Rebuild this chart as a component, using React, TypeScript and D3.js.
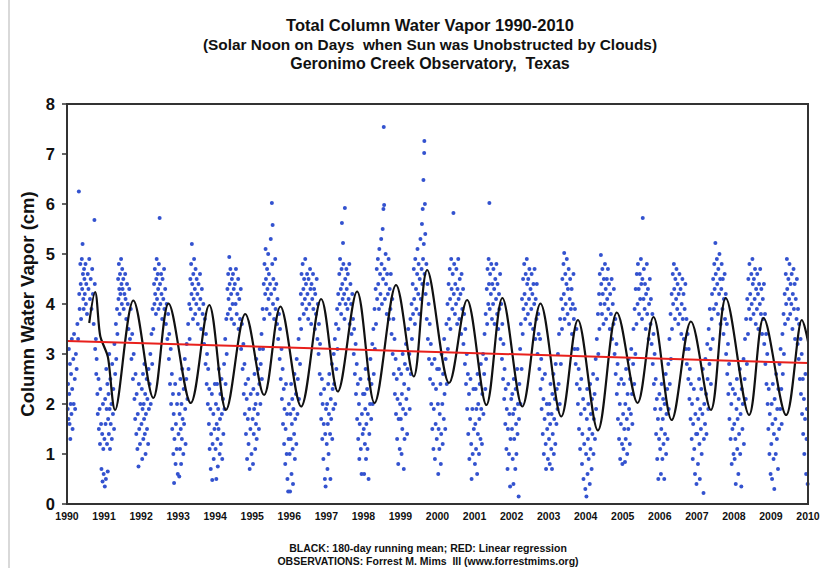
import React from 'react';
import * as d3 from 'd3';

// Observations: [fraction of year, column water vapor (cm)], one array per year
const obs1990 = [[.02,1.9],[.03,2.4],[.04,1.7],[.05,3.1],[.06,2.2],[.07,1.6],[.08,2.8],[.09,1.3],[.10,2.0],[.11,2.6],[.12,1.8],[.13,3.3],[.14,2.3],[.15,1.5],[.17,2.9],[.18,2.0],[.19,3.4],[.21,2.5],[.22,1.9],[.24,3.0],[.26,2.7],[.28,3.6],[.30,3.3],[.32,6.25],[.33,4.2],[.34,3.9],[.36,4.8],[.37,4.4],[.38,3.7],[.40,4.9],[.41,4.3],[.42,5.2],[.43,4.6],[.44,4.1],[.45,3.9],[.46,4.7],[.47,4.5],[.48,4.2],[.50,4.8],[.51,4.0],[.52,4.4],[.54,3.8],[.56,4.6],[.58,4.3],[.60,4.9],[.62,4.1],[.64,4.5],[.66,3.9],[.68,4.7],[.70,4.2],[.72,3.6],[.74,5.68],[.75,4.4],[.76,3.1],[.78,3.3],[.79,2.6],[.80,2.9],[.82,2.2],[.83,1.8],[.85,2.5],[.86,1.5],[.88,1.9],[.89,1.2],[.90,2.3],[.92,1.6],[.93,0.7],[.95,1.4],[.96,0.45],[.97,2.0],[.98,1.1],[.99,0.6]];
const obs1991 = [[.01,1.3],[.02,0.35],[.03,2.1],[.04,1.6],[.05,0.5],[.06,2.7],[.07,1.9],[.08,1.2],[.09,2.4],[.10,0.65],[.11,1.7],[.12,2.2],[.13,1.4],[.14,3.0],[.15,1.9],[.16,1.1],[.17,2.5],[.18,1.6],[.20,2.0],[.21,1.3],[.22,2.8],[.24,1.8],[.25,2.3],[.27,1.5],[.28,3.2],[.30,2.6],[.32,3.6],[.33,2.9],[.35,3.9],[.36,3.4],[.38,4.5],[.39,4.1],[.40,4.8],[.41,4.3],[.42,3.8],[.43,4.6],[.44,4.2],[.46,4.9],[.47,4.4],[.48,4.0],[.49,4.7],[.50,4.3],[.52,4.5],[.53,3.9],[.55,4.2],[.57,4.6],[.58,4.1],[.60,3.7],[.62,4.4],[.64,4.0],[.66,3.5],[.68,4.3],[.70,3.3],[.72,3.9],[.74,2.9],[.76,3.4],[.78,2.5],[.80,3.0],[.82,2.1],[.84,1.7],[.85,2.6],[.87,1.4],[.88,2.2],[.90,1.1],[.91,1.8],[.93,0.75],[.94,2.4],[.95,1.5],[.97,1.2],[.98,2.0]];
const obs1992 = [[.01,1.6],[.02,2.3],[.03,0.9],[.04,1.9],[.05,2.6],[.06,1.3],[.07,2.0],[.08,1.7],[.09,2.8],[.10,1.4],[.11,2.2],[.12,1.0],[.13,1.8],[.15,2.5],[.16,1.5],[.17,2.1],[.19,1.2],[.20,2.7],[.21,1.9],[.23,2.4],[.25,3.0],[.26,2.0],[.28,3.4],[.30,2.8],[.31,3.9],[.33,3.5],[.35,4.4],[.36,4.0],[.37,4.7],[.38,4.2],[.40,3.8],[.41,4.5],[.42,4.9],[.43,4.1],[.45,4.6],[.46,4.3],[.47,3.9],[.48,4.8],[.50,5.72],[.51,4.4],[.52,4.0],[.54,4.6],[.55,4.2],[.57,3.7],[.58,4.5],[.60,4.1],[.62,4.7],[.63,3.9],[.65,4.3],[.67,3.6],[.69,4.0],[.71,3.3],[.73,3.8],[.75,2.9],[.76,3.4],[.78,2.4],[.80,3.1],[.81,2.0],[.83,2.6],[.84,1.5],[.86,2.2],[.87,1.0],[.88,1.8],[.89,0.42],[.90,1.3],[.92,2.4],[.93,0.8],[.94,1.6],[.96,1.1],[.97,2.0],[.99,0.6]];
const obs1993 = [[.01,1.4],[.02,2.2],[.03,0.55],[.04,1.8],[.05,1.1],[.06,2.5],[.07,1.5],[.08,0.8],[.09,2.0],[.10,1.3],[.11,2.7],[.12,1.7],[.14,1.0],[.15,2.3],[.16,1.6],[.18,2.9],[.19,1.9],[.20,1.2],[.22,2.5],[.23,3.2],[.25,2.1],[.27,3.6],[.28,2.7],[.30,4.0],[.31,3.3],[.33,4.5],[.34,3.9],[.35,4.8],[.36,4.2],[.37,5.2],[.38,4.4],[.40,3.7],[.41,4.6],[.42,4.1],[.43,4.9],[.45,4.3],[.46,3.8],[.47,4.7],[.49,4.0],[.50,4.5],[.52,4.2],[.53,3.6],[.55,4.4],[.57,3.9],[.59,4.6],[.60,4.1],[.62,3.5],[.64,4.3],[.66,3.8],[.68,4.0],[.70,3.2],[.72,3.7],[.74,2.8],[.75,3.4],[.77,2.4],[.78,3.0],[.80,2.0],[.81,2.7],[.83,1.6],[.84,2.3],[.85,1.1],[.87,1.9],[.88,0.7],[.89,1.4],[.91,2.2],[.92,0.48],[.93,1.2],[.95,1.8],[.96,0.9],[.98,1.5],[.99,2.4]];
const obs1994 = [[.01,1.1],[.02,2.0],[.03,0.5],[.04,1.6],[.05,2.4],[.06,1.3],[.07,0.75],[.08,1.9],[.09,1.5],[.10,2.7],[.12,1.0],[.13,1.7],[.14,2.2],[.15,1.2],[.17,2.5],[.18,1.8],[.19,0.9],[.21,2.1],[.22,1.4],[.24,2.8],[.25,1.9],[.27,3.3],[.28,2.4],[.30,3.7],[.31,3.0],[.33,4.3],[.34,3.8],[.35,4.6],[.36,4.1],[.38,4.94],[.39,4.4],[.40,3.9],[.41,4.7],[.43,4.2],[.44,3.7],[.45,4.5],[.47,4.0],[.48,4.6],[.50,4.3],[.51,3.6],[.53,4.4],[.55,4.0],[.56,4.7],[.58,3.8],[.60,4.2],[.62,4.5],[.63,3.5],[.65,4.1],[.67,3.7],[.69,4.3],[.70,3.1],[.72,3.6],[.74,2.7],[.76,3.2],[.77,2.2],[.79,2.8],[.80,1.8],[.82,2.4],[.83,1.4],[.85,2.1],[.86,0.9],[.88,1.7],[.89,2.5],[.90,1.2],[.92,1.9],[.93,0.7],[.95,1.5],[.96,2.2],[.98,1.0]];
const obs1995 = [[.01,1.7],[.02,0.8],[.03,2.3],[.04,1.4],[.05,1.9],[.06,2.6],[.08,1.1],[.09,2.0],[.10,1.6],[.11,2.9],[.12,1.3],[.14,2.2],[.15,1.8],[.16,2.7],[.18,1.5],[.19,2.4],[.20,3.1],[.22,2.0],[.23,2.8],[.25,3.4],[.26,2.5],[.28,3.9],[.29,3.1],[.31,4.4],[.32,3.7],[.33,4.8],[.35,4.2],[.36,5.1],[.37,4.5],[.39,3.9],[.40,4.7],[.41,4.3],[.43,5.0],[.44,4.1],[.45,4.6],[.47,3.8],[.48,4.4],[.50,5.3],[.51,4.2],[.53,6.02],[.54,4.8],[.55,5.58],[.56,4.0],[.57,4.5],[.59,3.7],[.60,4.3],[.62,4.9],[.63,3.9],[.65,4.4],[.67,3.6],[.68,4.1],[.70,3.3],[.72,3.8],[.74,2.9],[.75,3.5],[.77,2.5],[.79,3.1],[.80,2.1],[.82,2.7],[.83,1.6],[.85,2.3],[.86,1.2],[.87,1.9],[.89,0.8],[.90,1.5],[.91,2.4],[.93,1.0],[.94,1.8],[.95,0.5],[.97,0.25],[.98,1.3],[.99,2.0]];
const obs1996 = [[.01,1.0],[.02,0.25],[.03,1.8],[.04,1.3],[.05,2.4],[.06,0.6],[.07,1.6],[.08,2.1],[.09,1.1],[.10,0.4],[.11,1.9],[.13,1.4],[.14,2.6],[.15,0.9],[.16,1.7],[.18,2.2],[.19,1.2],[.20,2.9],[.22,1.8],[.23,2.5],[.25,3.3],[.26,2.1],[.28,3.7],[.29,2.8],[.31,4.2],[.32,3.5],[.33,4.6],[.35,4.0],[.36,4.8],[.38,4.3],[.39,3.8],[.40,4.5],[.42,4.1],[.43,4.9],[.45,4.4],[.46,3.9],[.48,4.6],[.49,4.2],[.51,3.7],[.52,4.5],[.54,4.0],[.56,4.7],[.57,4.3],[.59,3.6],[.60,4.4],[.62,4.1],[.64,4.6],[.65,3.9],[.67,4.3],[.69,3.5],[.70,4.2],[.72,3.8],[.74,4.5],[.76,3.3],[.77,4.0],[.79,3.0],[.80,3.6],[.82,2.6],[.83,3.2],[.85,2.2],[.86,1.7],[.88,2.5],[.89,1.3],[.90,2.0],[.92,0.9],[.93,1.6],[.94,2.3],[.96,0.5],[.97,1.4],[.98,0.35],[.99,1.9]];
const obs1997 = [[.01,1.2],[.02,2.0],[.03,0.7],[.04,1.6],[.05,2.4],[.06,1.0],[.07,1.8],[.08,2.6],[.10,1.4],[.11,0.5],[.12,2.1],[.13,1.7],[.15,2.8],[.16,1.3],[.17,2.3],[.19,1.9],[.20,3.0],[.21,2.4],[.23,3.3],[.24,2.0],[.26,3.6],[.27,2.7],[.29,3.9],[.30,3.1],[.32,4.2],[.33,3.5],[.35,4.6],[.36,4.0],[.37,4.9],[.39,4.3],[.40,3.8],[.41,4.7],[.42,5.62],[.43,4.4],[.44,4.1],[.45,5.22],[.46,4.8],[.48,4.2],[.49,3.7],[.50,5.92],[.51,4.5],[.52,4.0],[.54,4.7],[.55,4.3],[.57,3.9],[.58,4.6],[.60,4.1],[.62,4.8],[.63,3.6],[.65,4.4],[.67,4.0],[.68,3.4],[.70,4.2],[.72,3.7],[.74,3.0],[.75,3.5],[.77,2.6],[.79,3.2],[.80,2.2],[.82,2.8],[.83,1.7],[.85,2.4],[.86,1.3],[.88,2.0],[.89,0.9],[.90,1.6],[.92,2.5],[.93,1.1],[.95,0.6],[.96,1.8],[.98,1.4],[.99,2.2]];
const obs1998 = [[.01,1.5],[.02,0.6],[.03,2.2],[.04,1.2],[.05,1.9],[.06,2.7],[.07,0.9],[.08,1.6],[.10,2.3],[.11,1.1],[.12,1.8],[.14,0.5],[.15,2.5],[.16,1.4],[.18,2.0],[.19,2.9],[.21,1.7],[.22,2.4],[.24,3.2],[.25,2.0],[.27,3.5],[.28,2.6],[.30,3.9],[.31,3.1],[.33,4.3],[.34,3.6],[.36,4.7],[.37,4.1],[.39,4.9],[.40,4.4],[.42,3.9],[.43,5.1],[.45,4.6],[.46,4.2],[.48,5.3],[.49,4.8],[.50,4.0],[.52,5.5],[.53,4.5],[.54,5.9],[.55,7.54],[.56,5.98],[.57,4.7],[.58,4.1],[.60,5.0],[.61,4.4],[.63,3.8],[.64,4.6],[.66,4.2],[.68,4.9],[.69,3.7],[.71,4.3],[.73,3.9],[.74,4.6],[.76,3.4],[.78,4.1],[.79,3.0],[.81,3.7],[.82,2.6],[.84,3.3],[.85,2.2],[.87,2.9],[.88,1.8],[.90,2.5],[.91,1.3],[.92,2.1],[.94,0.8],[.95,1.7],[.96,2.7],[.98,1.1],[.99,2.0]];
const obs1999 = [[.01,1.7],[.02,2.6],[.03,1.0],[.04,2.2],[.05,1.5],[.06,3.0],[.07,1.9],[.09,0.7],[.10,2.4],[.11,1.3],[.12,2.8],[.14,1.8],[.15,3.2],[.16,2.1],[.18,1.4],[.19,2.7],[.21,3.5],[.22,2.3],[.24,3.0],[.25,1.9],[.27,3.7],[.28,2.6],[.30,4.0],[.31,3.3],[.33,4.4],[.34,3.8],[.36,4.7],[.37,4.1],[.39,3.6],[.40,4.9],[.42,4.3],[.43,3.9],[.45,4.6],[.46,5.1],[.48,4.2],[.49,4.8],[.51,3.8],[.52,4.5],[.54,5.3],[.55,4.1],[.57,4.7],[.58,5.6],[.59,4.4],[.60,5.9],[.61,4.9],[.62,6.48],[.63,5.2],[.64,7.02],[.645,7.26],[.65,4.6],[.66,6.0],[.67,5.4],[.68,4.2],[.70,4.8],[.71,3.7],[.73,4.4],[.74,3.3],[.76,4.0],[.77,2.9],[.79,3.6],[.80,2.5],[.82,3.2],[.83,2.0],[.85,2.8],[.86,1.5],[.88,2.4],[.89,1.1],[.90,1.9],[.92,2.9],[.93,0.9],[.95,1.6],[.96,2.3],[.98,1.3],[.99,2.7]];
const obs2000 = [[.01,2.0],[.02,0.6],[.03,1.5],[.04,2.7],[.05,1.1],[.06,1.8],[.08,2.4],[.09,0.8],[.10,1.4],[.11,3.0],[.13,2.0],[.14,1.2],[.15,2.6],[.17,1.7],[.18,3.3],[.19,2.2],[.21,1.5],[.22,2.9],[.24,3.6],[.25,2.4],[.27,4.0],[.28,3.1],[.30,4.4],[.31,3.7],[.33,4.7],[.34,4.1],[.35,3.5],[.37,4.9],[.38,4.3],[.40,3.9],[.41,4.6],[.43,5.82],[.44,4.2],[.45,4.8],[.47,3.8],[.48,4.4],[.50,4.0],[.51,4.7],[.53,3.6],[.54,4.3],[.56,4.9],[.57,4.1],[.59,3.7],[.60,4.5],[.62,4.2],[.64,3.4],[.65,4.6],[.67,3.9],[.69,4.3],[.70,3.2],[.72,3.8],[.74,2.8],[.75,3.5],[.77,2.4],[.79,3.0],[.80,1.9],[.82,2.6],[.83,1.4],[.85,2.2],[.86,0.9],[.88,1.7],[.89,2.5],[.91,1.2],[.92,0.5],[.94,1.9],[.95,1.0],[.97,2.3],[.98,1.5]];
const obs2001 = [[.01,0.8],[.02,1.6],[.03,2.3],[.04,1.1],[.05,1.9],[.07,0.6],[.08,2.6],[.09,1.4],[.10,2.0],[.12,1.0],[.13,1.7],[.14,2.4],[.16,1.3],[.17,2.8],[.18,1.9],[.20,1.2],[.21,2.2],[.23,3.0],[.24,1.8],[.26,2.6],[.27,3.4],[.29,2.3],[.30,3.8],[.31,2.9],[.33,4.3],[.34,3.6],[.35,4.7],[.37,4.0],[.38,4.9],[.39,4.4],[.40,6.02],[.41,3.9],[.42,4.6],[.44,4.2],[.45,4.8],[.47,3.7],[.48,4.4],[.50,4.0],[.51,4.7],[.53,4.3],[.54,3.6],[.56,4.5],[.58,4.1],[.59,4.8],[.61,3.8],[.62,4.4],[.64,3.5],[.66,4.2],[.67,3.9],[.69,4.6],[.70,3.3],[.72,4.0],[.74,2.9],[.75,3.6],[.77,2.5],[.78,3.2],[.80,2.1],[.81,2.7],[.83,1.6],[.84,2.3],[.86,1.1],[.87,1.9],[.89,0.7],[.90,1.5],[.91,2.4],[.93,1.0],[.94,1.8],[.96,0.35],[.97,1.3],[.99,2.1]];
const obs2002 = [[.01,1.5],[.02,2.2],[.03,0.9],[.04,1.8],[.05,0.4],[.06,2.5],[.07,1.3],[.08,1.9],[.10,0.7],[.11,2.3],[.12,1.6],[.13,1.0],[.15,2.7],[.16,1.4],[.17,2.0],[.19,0.15],[.20,1.7],[.21,2.4],[.23,3.1],[.24,2.0],[.25,3.6],[.27,2.7],[.28,4.1],[.30,3.4],[.31,4.5],[.32,3.9],[.34,4.8],[.35,4.2],[.37,3.7],[.38,4.6],[.39,4.0],[.41,4.9],[.42,4.4],[.44,3.8],[.45,4.5],[.47,4.1],[.48,4.7],[.50,3.6],[.51,4.3],[.53,3.9],[.54,4.6],[.56,4.2],[.58,3.5],[.59,4.4],[.61,4.0],[.62,4.7],[.64,3.3],[.65,4.1],[.67,3.7],[.68,4.4],[.70,3.0],[.72,3.8],[.73,3.4],[.75,2.7],[.77,3.3],[.78,2.3],[.80,2.9],[.81,1.9],[.83,2.5],[.84,1.4],[.86,2.1],[.87,1.0],[.89,1.7],[.90,2.6],[.92,1.2],[.93,0.7],[.95,2.0],[.96,1.5],[.98,0.9],[.99,1.8]];
const obs2003 = [[.01,1.3],[.02,2.0],[.03,0.8],[.04,1.6],[.05,2.4],[.07,1.1],[.08,1.8],[.09,0.7],[.10,2.2],[.11,1.4],[.13,2.6],[.14,1.0],[.15,1.7],[.17,2.1],[.18,1.2],[.19,2.8],[.21,1.6],[.22,2.3],[.24,1.9],[.25,3.0],[.27,2.4],[.28,3.4],[.30,2.0],[.31,3.7],[.33,2.8],[.34,4.1],[.36,3.5],[.37,4.5],[.38,3.9],[.40,4.8],[.41,4.2],[.42,5.02],[.43,3.7],[.45,4.6],[.46,4.0],[.48,4.4],[.49,4.9],[.51,3.8],[.52,4.3],[.54,4.7],[.55,3.6],[.57,4.1],[.58,4.5],[.60,3.9],[.62,4.3],[.63,3.4],[.65,4.0],[.67,4.6],[.68,3.7],[.70,3.1],[.71,3.9],[.73,2.8],[.75,3.5],[.76,2.4],[.78,3.1],[.79,2.0],[.81,2.7],[.82,1.5],[.84,2.3],[.85,1.1],[.87,1.8],[.88,2.5],[.90,0.8],[.91,1.4],[.93,2.1],[.94,0.5],[.96,1.2],[.97,1.9],[.99,0.3]];
const obs2004 = [[.01,1.0],[.02,0.15],[.03,1.7],[.04,2.3],[.05,0.6],[.06,1.3],[.07,2.0],[.08,0.9],[.10,1.5],[.11,0.4],[.12,2.4],[.13,1.1],[.14,1.8],[.16,0.7],[.17,2.1],[.18,1.4],[.20,2.6],[.21,1.0],[.22,1.7],[.24,2.2],[.25,1.3],[.27,2.9],[.28,1.9],[.30,3.3],[.31,2.5],[.33,3.8],[.34,3.0],[.36,4.2],[.37,3.5],[.38,4.6],[.40,4.0],[.41,4.98],[.42,4.4],[.44,3.8],[.45,4.7],[.46,4.2],[.48,3.6],[.49,4.5],[.51,4.0],[.52,4.8],[.54,4.3],[.55,3.7],[.57,4.5],[.58,4.1],[.60,4.7],[.61,3.9],[.63,4.4],[.65,3.5],[.66,4.2],[.68,3.8],[.70,4.5],[.71,3.3],[.73,4.0],[.75,3.6],[.76,4.3],[.78,3.0],[.80,3.7],[.81,2.6],[.83,3.2],[.84,2.2],[.86,2.8],[.87,1.7],[.89,2.4],[.90,1.3],[.92,2.0],[.93,0.9],[.95,1.6],[.96,2.5],[.98,1.2],[.99,0.8]];
const obs2005 = [[.01,1.8],[.02,1.1],[.03,2.4],[.04,1.5],[.06,0.84],[.07,2.0],[.08,1.3],[.09,2.7],[.11,1.7],[.12,1.0],[.13,2.2],[.15,1.5],[.16,2.9],[.17,1.9],[.19,1.2],[.20,2.5],[.22,1.8],[.23,3.1],[.25,2.2],[.26,1.6],[.28,2.8],[.29,3.5],[.31,2.4],[.32,3.9],[.34,3.0],[.35,4.3],[.37,3.6],[.38,4.6],[.40,4.0],[.41,4.8],[.43,4.3],[.44,3.8],[.46,4.6],[.47,4.1],[.49,4.9],[.50,4.4],[.52,3.7],[.53,4.5],[.54,5.72],[.56,4.1],[.57,4.7],[.59,3.9],[.60,4.4],[.62,3.5],[.63,4.2],[.65,4.8],[.66,3.8],[.68,4.3],[.70,3.3],[.71,4.0],[.73,4.5],[.75,3.6],[.76,4.1],[.78,3.2],[.80,3.8],[.81,2.8],[.83,3.4],[.84,2.4],[.86,3.0],[.87,1.9],[.89,2.5],[.90,1.4],[.92,2.1],[.93,0.9],[.95,1.7],[.96,0.5],[.98,1.3],[.99,2.2]];
const obs2006 = [[.01,1.1],[.02,1.9],[.03,0.6],[.04,1.5],[.05,2.4],[.07,0.9],[.08,1.7],[.09,2.1],[.10,1.2],[.12,0.5],[.13,2.0],[.14,1.4],[.16,2.6],[.17,1.0],[.18,1.8],[.20,2.3],[.21,1.3],[.23,2.8],[.24,1.9],[.26,3.3],[.27,2.4],[.29,3.8],[.30,2.9],[.32,4.2],[.33,3.5],[.35,4.6],[.36,4.0],[.38,4.8],[.39,4.3],[.41,3.7],[.42,4.5],[.44,4.1],[.45,4.7],[.47,3.9],[.48,4.4],[.50,3.6],[.51,4.2],[.53,4.6],[.54,3.8],[.56,4.3],[.58,3.4],[.59,4.0],[.61,4.5],[.62,3.7],[.64,4.2],[.65,3.3],[.67,3.9],[.69,4.4],[.70,3.1],[.72,3.7],[.73,2.8],[.75,3.4],[.77,2.5],[.78,3.1],[.80,2.1],[.81,2.7],[.83,1.7],[.84,2.4],[.86,1.3],[.87,2.0],[.89,0.9],[.90,1.6],[.92,2.3],[.93,1.1],[.95,0.6],[.96,1.8],[.98,1.4],[.99,0.4]];
const obs2007 = [[.01,1.4],[.02,2.1],[.03,0.8],[.04,1.7],[.06,2.5],[.07,1.2],[.08,0.5],[.09,1.9],[.11,1.5],[.12,2.3],[.13,1.0],[.15,1.8],[.16,2.7],[.18,0.22],[.19,1.3],[.20,2.0],[.22,1.6],[.23,2.9],[.25,2.2],[.26,1.4],[.28,3.2],[.29,2.5],[.31,1.9],[.32,3.5],[.34,2.8],[.35,3.9],[.37,3.1],[.38,2.4],[.40,3.7],[.41,4.2],[.43,3.3],[.44,4.5],[.46,3.9],[.47,4.8],[.48,4.3],[.50,5.22],[.51,4.6],[.52,4.0],[.54,4.9],[.55,4.4],[.57,3.8],[.58,4.7],[.60,4.2],[.61,5.0],[.63,4.5],[.64,3.6],[.66,4.3],[.67,4.8],[.69,3.9],[.70,4.5],[.72,3.4],[.73,4.1],[.75,4.6],[.76,3.7],[.78,4.2],[.79,3.0],[.81,3.6],[.82,2.6],[.84,3.2],[.85,2.2],[.87,2.8],[.88,1.7],[.90,2.4],[.91,1.3],[.93,2.0],[.94,0.8],[.96,1.5],[.97,2.3],[.99,1.0]];
const obs2008 = [[.01,1.6],[.02,0.9],[.03,2.2],[.04,1.3],[.05,0.4],[.07,1.9],[.08,2.5],[.09,1.1],[.10,1.7],[.12,0.6],[.13,2.1],[.14,1.4],[.16,2.7],[.17,1.0],[.18,1.8],[.20,0.35],[.21,2.3],[.23,1.5],[.24,2.0],[.26,2.9],[.27,1.2],[.29,2.5],[.30,3.3],[.32,2.1],[.33,3.7],[.35,2.8],[.36,4.1],[.38,3.4],[.39,4.5],[.41,3.9],[.42,4.8],[.44,4.2],[.45,3.7],[.47,4.6],[.48,4.0],[.50,4.9],[.51,4.4],[.53,3.8],[.54,4.5],[.56,4.1],[.57,4.7],[.59,3.6],[.60,4.3],[.62,3.9],[.63,4.6],[.65,4.2],[.66,3.5],[.68,4.4],[.70,4.0],[.71,4.7],[.73,3.8],[.74,4.3],[.76,3.4],[.78,4.1],[.79,3.7],[.81,4.4],[.82,3.2],[.84,3.8],[.85,2.8],[.87,3.4],[.88,2.4],[.90,3.0],[.91,2.0],[.93,1.5],[.94,2.3],[.96,1.0],[.97,1.8],[.99,0.6]];
const obs2009 = [[.01,1.2],[.02,2.0],[.03,0.5],[.04,1.6],[.05,2.4],[.07,0.9],[.08,1.4],[.09,0.3],[.10,2.1],[.12,1.7],[.13,1.0],[.14,2.6],[.16,1.3],[.17,1.9],[.19,0.7],[.20,2.3],[.22,1.5],[.23,2.8],[.25,1.9],[.26,3.1],[.28,2.3],[.29,1.6],[.31,3.4],[.32,2.6],[.34,3.8],[.35,3.0],[.37,4.2],[.38,3.6],[.40,4.6],[.41,4.0],[.43,4.9],[.44,4.3],[.46,3.7],[.47,4.5],[.49,4.1],[.50,4.8],[.52,3.8],[.53,4.4],[.55,4.0],[.56,4.6],[.58,3.5],[.59,4.2],[.61,4.7],[.62,3.9],[.64,4.4],[.65,3.3],[.67,4.1],[.69,3.7],[.70,4.5],[.72,3.2],[.73,3.9],[.75,2.9],[.76,3.6],[.78,2.5],[.80,3.3],[.81,2.2],[.83,3.0],[.84,1.8],[.86,2.5],[.87,1.4],[.89,2.1],[.90,1.0],[.92,1.7],[.93,2.6],[.95,0.6],[.96,1.3],[.97,1.9],[.99,0.4]];

const obsYears = [1990, 1991, 1992, 1993, 1994, 1995, 1996, 1997, 1998, 1999, 2000, 2001, 2002, 2003, 2004, 2005, 2006, 2007, 2008, 2009];
const obsByYear = [obs1990, obs1991, obs1992, obs1993, obs1994, obs1995, obs1996, obs1997, obs1998, obs1999, obs2000, obs2001, obs2002, obs2003, obs2004, obs2005, obs2006, obs2007, obs2008, obs2009];

// 180-day running mean: [decimal year, cm]
const runningMean = [
  [1990.60, 3.62], [1990.76, 4.24], [1990.90, 3.35], [1991.0, 3.15], [1991.1, 2.95], [1991.30, 1.88],
  [1991.79, 4.07], [1992.33, 2.12], [1992.74, 4.01], [1993.34, 2.02], [1993.84, 3.98], [1994.29, 1.88],
  [1994.81, 3.80], [1995.32, 2.18], [1995.76, 3.95], [1996.32, 1.95], [1996.86, 4.10], [1997.31, 2.25],
  [1997.83, 4.25], [1998.30, 2.02], [1998.88, 4.38], [1999.36, 2.55], [1999.72, 4.68], [2000.31, 2.42],
  [2000.80, 4.08], [2001.32, 1.98], [2001.75, 4.12], [2002.29, 1.95], [2002.78, 4.01], [2003.34, 1.75],
  [2003.79, 3.68], [2004.33, 1.47], [2004.84, 3.83], [2005.40, 2.02], [2005.83, 3.74], [2006.32, 1.68],
  [2006.84, 3.65], [2007.38, 1.88], [2007.78, 4.12], [2008.41, 1.78], [2008.80, 3.72], [2009.41, 1.78],
  [2009.83, 3.68], [2010.0, 3.25],
];

// Linear regression end points
const regression = [[1990, 3.26], [2010, 2.82]];

const yTicks = [0, 1, 2, 3, 4, 5, 6, 7, 8];
const xTicks = d3.range(1990, 2011);

const titleLines = [
  'Total Column Water Vapor 1990-2010',
  '(Solar Noon on Days  when Sun was Unobstructed by Clouds)',
  'Geronimo Creek Observatory,  Texas',
];
const titleSizes = [16.5, 15.4, 16];
const footerLines = [
  'BLACK: 180-day running mean; RED: Linear regression',
  'OBSERVATIONS: Forrest M. Mims  III (www.forrestmims.org)',
];

const W = 822;
const H = 568;
const plot = { left: 67, right: 808, top: 104, bottom: 504 };
const sans = "'Liberation Sans', Arial, Helvetica, sans-serif";

export default function App() {
  const x = d3.scaleLinear().domain([1990, 2010]).range([plot.left, plot.right]);
  const y = d3.scaleLinear().domain([0, 8]).range([plot.bottom, plot.top]);

  const points = obsYears.flatMap((yr, i) => obsByYear[i].map(d => [yr + d[0], d[1]]));

  const meanLine = d3.line<number[]>()
    .x(d => x(d[0]))
    .y(d => y(d[1]))
    .curve(d3.curveCatmullRom.alpha(0.5));
  const regLine = d3.line<number[]>().x(d => x(d[0])).y(d => y(d[1]));

  return (
    <svg width={W} height={H} style={{ position: 'absolute', left: 0, top: 0, background: '#fff' }}>
      <rect x={0} y={0} width={W} height={H} fill="#fff" />
      <line x1={9} x2={9} y1={0} y2={H} stroke="#d9d9d9" strokeWidth={2} />

      {titleLines.map((t, i) => (
        <text key={i} x={430} y={31 + i * 19} textAnchor="middle" fontFamily={sans}
          fontWeight="bold" fontSize={titleSizes[i]} fill="#111" style={{ whiteSpace: 'pre' }}>{t}</text>
      ))}

      {/* observations */}
      <g fill="#3352cf">
        {points.map((d, i) => (
          <circle key={i} cx={x(d[0])} cy={y(d[1])} r={2} />
        ))}
      </g>

      <path d={meanLine(runningMean) ?? ''} fill="none" stroke="#111" strokeWidth={2.2} strokeLinejoin="round" />
      <path d={regLine(regression) ?? ''} fill="none" stroke="#e8201c" strokeWidth={2} />

      <rect x={plot.left} y={plot.top} width={plot.right - plot.left} height={plot.bottom - plot.top}
        fill="none" stroke="#333" strokeWidth={2} />

      {/* y axis */}
      {yTicks.map(t => (
        <g key={t}>
          <line x1={plot.left - 5} x2={plot.left} y1={y(t)} y2={y(t)} stroke="#333" strokeWidth={1.5} />
          <text x={55} y={y(t)} dy="0.36em" textAnchor="end" fontFamily={sans} fontWeight="bold"
            fontSize={16.5} fill="#111">{t}</text>
        </g>
      ))}
      <text transform={`translate(28,${(plot.top + plot.bottom) / 2}) rotate(-90)`} textAnchor="middle"
        dy="0.35em" fontFamily={sans} fontWeight="bold" fontSize={18.5} fill="#111">Column Water Vapor (cm)</text>

      {/* x axis */}
      {xTicks.map(t => (
        <text key={t} x={x(t)} y={520} textAnchor="middle" fontFamily={sans} fontWeight="bold"
          fontSize={10.5} fill="#111">{t}</text>
      ))}

      {footerLines.map((t, i) => (
        <text key={i} x={428} y={552 + i * 13} textAnchor="middle" fontFamily={sans} fontWeight="bold"
          fontSize={10.5} fill="#111" style={{ whiteSpace: 'pre' }}>{t}</text>
      ))}
    </svg>
  );
}
